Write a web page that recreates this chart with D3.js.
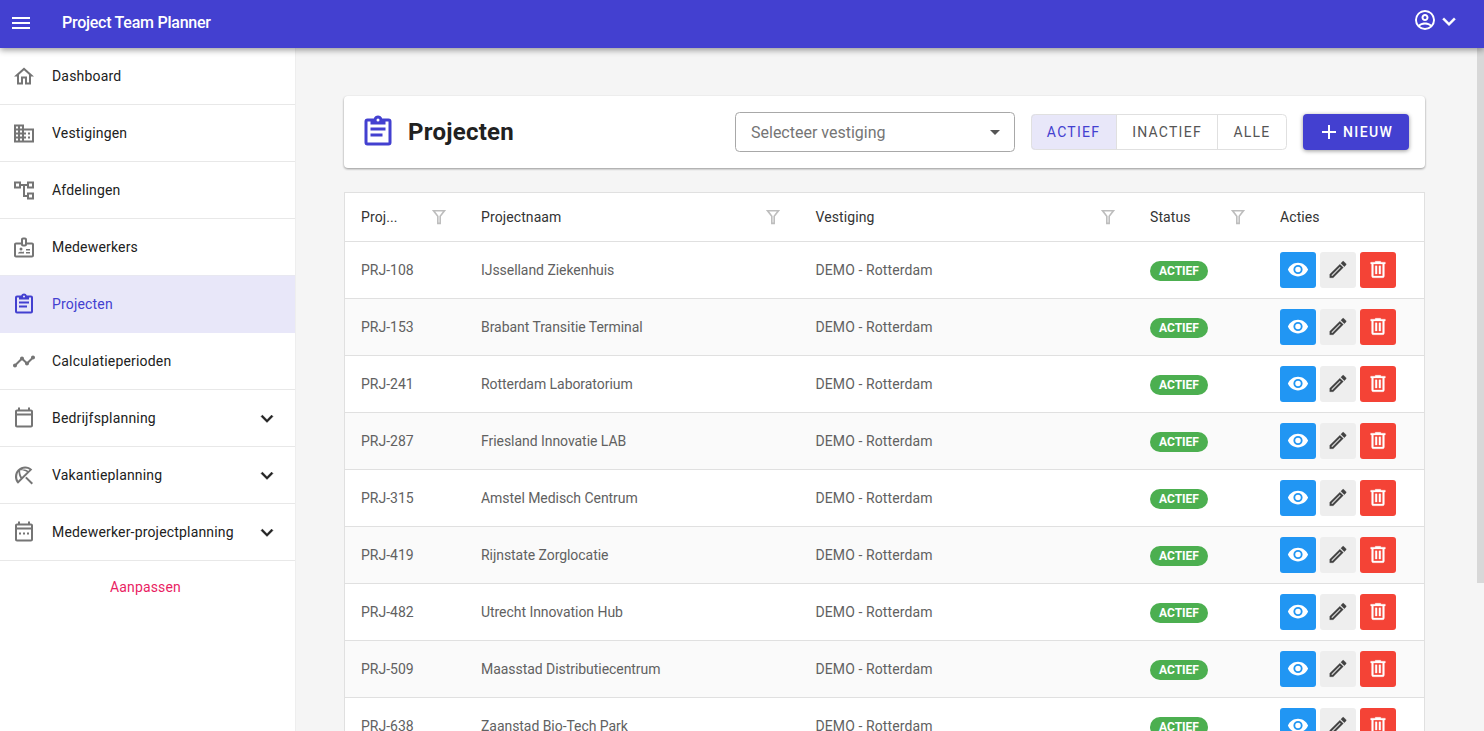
<!DOCTYPE html>
<html lang="nl">
<head>
<meta charset="utf-8">
<title>Project Team Planner</title>
<script src="https://cdn.jsdelivr.net/npm/d3@7"></script>
<style>
  html, body { margin: 0; height: 100%; overflow: hidden; background: #f5f5f5; }
  svg { display: block; font-family: Roboto, sans-serif; }
</style>
</head>
<body>
<svg id="app" width="1484" height="731"></svg>
<script>
const appTitle = "Project Team Planner";
const navLabels = ["Dashboard", "Vestigingen", "Afdelingen", "Medewerkers", "Projecten", "Calculatieperioden", "Bedrijfsplanning", "Vakantieplanning", "Medewerker-projectplanning"];
const navIcons = ["home", "domain", "tree", "badge", "clipboard", "timeline", "calendar", "umbrella", "calendarDots"];
const navExpandable = ["Bedrijfsplanning", "Vakantieplanning", "Medewerker-projectplanning"];
const activeNav = "Projecten";
const customizeLabel = "Aanpassen";

const pageTitle = "Projecten";
const selectPlaceholder = "Selecteer vestiging";
const toggleLabels = ["ACTIEF", "INACTIEF", "ALLE"];
const newLabel = "NIEUW";

const columnLabels = ["Proj...", "Projectnaam", "Vestiging", "Status", "Acties"];
const projectCodes = ["PRJ-108", "PRJ-153", "PRJ-241", "PRJ-287", "PRJ-315", "PRJ-419", "PRJ-482", "PRJ-509", "PRJ-638"];
const projectNames = ["IJsselland Ziekenhuis", "Brabant Transitie Terminal", "Rotterdam Laboratorium", "Friesland Innovatie LAB", "Amstel Medisch Centrum", "Rijnstate Zorglocatie", "Utrecht Innovation Hub", "Maasstad Distributiecentrum", "Zaanstad Bio-Tech Park"];
const projectSites = ["DEMO - Rotterdam", "DEMO - Rotterdam", "DEMO - Rotterdam", "DEMO - Rotterdam", "DEMO - Rotterdam", "DEMO - Rotterdam", "DEMO - Rotterdam", "DEMO - Rotterdam", "DEMO - Rotterdam"];
const projectStatus = ["ACTIEF", "ACTIEF", "ACTIEF", "ACTIEF", "ACTIEF", "ACTIEF", "ACTIEF", "ACTIEF", "ACTIEF"];
const rowActions = ["eye", "pencil", "trash"];

const PRIMARY = "#4340d0";
const ACTIVE_BG = "#e8e7f9";
const LINE = "#e8e8e8";

const icons = {
  menu: "M3,6H21V8H3V6M3,11H21V13H3V11M3,16H21V18H3V16Z",
  home: "M12 5.69L17 10.19V18H15V12H9V18H7V10.19L12 5.69M12 3L2 12H5V20H11V14H13V20H19V12H22L12 3Z",
  domain: "M18,15H16V17H18M18,11H16V13H18M20,19H12V17H14V15H12V13H14V11H12V9H20M10,7H8V5H10M10,11H8V9H10M10,15H8V13H10M10,19H8V17H10M6,7H4V5H6M6,11H4V9H6M6,15H4V13H6M6,19H4V17H6M12,7V3H2V21H22V7H12Z",
  tree: "M2 3H9V10H2ZM4 5V8H7V5ZM15 3H22V10H15ZM17 5V8H20V5ZM15 14H22V21H15ZM17 16V19H20V16ZM9 5.5H15V7.5H13V16.5H15V18.5H11V7.5H9Z",
  badge: "M20 7h-5V4c0-1.1-.9-2-2-2h-2c-1.1 0-2 .9-2 2v3H4c-1.1 0-2 .9-2 2v11c0 1.1.9 2 2 2h16c1.1 0 2-.9 2-2V9c0-1.1-.9-2-2-2zM11 4h2v5h-2V4zm9 16H4V9h5c0 1.1.9 2 2 2h2c1.1 0 2-.9 2-2h5v11zM9 15a1.5 1.5 0 1 0 0-3 1.5 1.5 0 0 0 0 3zm2.1 1.7c-.6-.3-1.3-.45-2.1-.45s-1.5.17-2.1.45c-.55.25-.9.8-.9 1.4V18h6v-.9c0-.6-.35-1.15-.9-1.4zM14 13.5h4V15h-4zm0 3h4V18h-4z",
  clipboard: "M19,3H14.82C14.4,1.84 13.3,1 12,1C10.7,1 9.6,1.84 9.18,3H5A2,2 0 0,0 3,5V19A2,2 0 0,0 5,21H19A2,2 0 0,0 21,19V5A2,2 0 0,0 19,3M12,3A1,1 0 0,1 13,4A1,1 0 0,1 12,5A1,1 0 0,1 11,4A1,1 0 0,1 12,3M7,7H17V5H19V19H5V5H7V7M17,11H7V9H17V11M15,15H7V13H15V15Z",
  timeline: "M23 8c0 1.1-.9 2-2 2-.18 0-.35-.02-.51-.07l-3.56 3.55c.05.16.07.34.07.52 0 1.1-.9 2-2 2s-2-.9-2-2c0-.18.02-.36.07-.52l-2.55-2.55c-.16.05-.34.07-.52.07s-.36-.02-.52-.07l-4.55 4.56c.05.16.07.33.07.51 0 1.1-.9 2-2 2s-2-.9-2-2 .9-2 2-2c.18 0 .35.02.51.07l4.56-4.55C8.02 9.36 8 9.18 8 9c0-1.1.9-2 2-2s2 .9 2 2c0 .18-.02.36-.07.52l2.55 2.55c.16-.05.34-.07.52-.07s.36.02.52.07l3.55-3.56C19.02 8.35 19 8.18 19 8c0-1.1.9-2 2-2s2 .9 2 2z",
  calendar: "M19 3H18V1H16V3H8V1H6V3H5C3.89 3 3 3.9 3 5V19C3 20.1 3.89 21 5 21H19C20.1 21 21 20.1 21 19V5C21 3.9 20.1 3 19 3M19 19H5V9H19V19M19 7H5V5H19V7Z",
  calendarDots: "M19 3H18V1H16V3H8V1H6V3H5C3.89 3 3 3.9 3 5V19C3 20.1 3.89 21 5 21H19C20.1 21 21 20.1 21 19V5C21 3.9 20.1 3 19 3M19 19H5V9H19V19M19 7H5V5H19V7ZM7 12H9V14H7ZM11 12H13V14H11ZM15 12H17V14H15Z",
  umbrella: "M13.13 14.56L14.56 13.13L21 19.57L19.57 21ZM5.95 5.98C2 9.93 2 16.33 5.97 20.28L20.26 5.96C16.31 2.01 9.91 2.02 5.95 5.98ZM6.1 17.2C4.6 14.6 4.9 10.9 6.6 8.3C6.5 10.5 7.2 13 8.5 15ZM9.9 13.6C8.6 11.4 8 8.9 8.2 6.9C10.3 6.7 12.8 7.3 15 8.6ZM9.2 6.2C11.9 4.7 15.2 4.7 17.5 6.2L16.3 7.4C14.3 6.2 11.8 5.8 9.2 6.2Z",
  filter: "M3 3H21L14.5 11.5V21H9.5V11.5ZM7.2 5L11.5 10.6V19H12.5V10.6L16.8 5Z",
  eye: "M12,9A3,3 0 0,0 9,12A3,3 0 0,0 12,15A3,3 0 0,0 15,12A3,3 0 0,0 12,9M12,17A5,5 0 0,1 7,12A5,5 0 0,1 12,7A5,5 0 0,1 17,12A5,5 0 0,1 12,17M12,4.5C7,4.5 2.73,7.61 1,12C2.73,16.39 7,19.5 12,19.5C17,19.5 21.27,16.39 23,12C21.27,7.61 17,4.5 12,4.5Z",
  pencil: "M14.06,9L15,9.94L5.92,19H5V18.08L14.06,9M17.66,3C17.41,3 17.15,3.1 16.96,3.29L15.13,5.12L18.88,8.87L20.71,7.04C21.1,6.65 21.1,6 20.71,5.63L18.37,3.29C18.17,3.09 17.92,3 17.66,3M14.06,6.19L3,17.25V21H6.75L17.81,9.94L14.06,6.19Z",
  trash: "M9,3V4H4V6H5V19A2,2 0 0,0 7,21H17A2,2 0 0,0 19,19V6H20V4H15V3H9M7,6H17V19H7V6M9,8V17H11V8H9M13,8V17H15V8H13Z",
  plus: "M19,13H13V19H11V13H5V11H11V5H13V11H19V13Z",
  chevron: "M7.41,8.58L12,13.17L16.59,8.58L18,10L12,16L6,10L7.41,8.58Z",
  account: "M12,2A10,10 0 0,0 2,12A10,10 0 0,0 12,22A10,10 0 0,0 22,12A10,10 0 0,0 12,2M7.07,18.28C7.5,17.38 10.12,16.5 12,16.5C13.88,16.5 16.5,17.38 16.93,18.28C15.57,19.36 13.86,20 12,20C10.14,20 8.43,19.36 7.07,18.28M18.36,16.83C16.93,15.09 13.46,14.5 12,14.5C10.54,14.5 7.07,15.09 5.64,16.83C4.62,15.5 4,13.82 4,12C4,7.59 7.59,4 12,4C16.41,4 20,7.59 20,12C20,13.82 19.38,15.5 18.36,16.83M12,6C10.06,6 8.5,7.56 8.5,9.5C8.5,11.44 10.06,13 12,13C13.94,13 15.5,11.44 15.5,9.5C15.5,7.56 13.94,6 12,6M12,11A1.5,1.5 0 0,1 10.5,9.5A1.5,1.5 0 0,1 12,8A1.5,1.5 0 0,1 13.5,9.5A1.5,1.5 0 0,1 12,11Z"
};

const svg = d3.select("#app");

// place a 24 unit icon centered on cx, cy
function icon(parent, name, cx, cy, size, fill, thicken = 0) {
  const k = size / 24;
  return parent.append("path")
    .attr("d", icons[name])
    .attr("fill", fill)
    .attr("stroke", thicken ? fill : "none")
    .attr("stroke-width", thicken)
    .attr("transform", `translate(${cx - size / 2},${cy - size / 2}) scale(${k})`);
}

function label(parent, str, x, y, size, fill, weight = 400, anchor = "start", spacing = 0) {
  return parent.append("text")
    .attr("x", x)
    .attr("y", y)
    .attr("dy", "0.35em")
    .attr("text-anchor", anchor)
    .style("font-size", size + "px")
    .style("font-weight", weight)
    .style("letter-spacing", spacing + "px")
    .attr("fill", fill)
    .text(str);
}

// background + scrollbar
svg.append("rect").attr("width", 1484).attr("height", 731).attr("fill", "#f5f5f5");
svg.append("rect").attr("x", 1477).attr("y", 48).attr("width", 7).attr("height", 535).attr("fill", "#d8d8d8");

// sidebar
const sidebar = svg.append("g");
sidebar.append("rect").attr("width", 295).attr("height", 731).attr("fill", "#fff");
sidebar.append("rect").attr("x", 295).attr("width", 1).attr("height", 731).attr("fill", "#eeeeee");

const navY = d3.scaleBand().domain(navLabels).range([48, 48 + 57 * navLabels.length]);

const navRows = sidebar.selectAll("g.nav").data(navLabels).join("g")
  .attr("class", "nav")
  .attr("transform", (d) => `translate(0,${navY(d)})`);

navRows.append("rect")
  .attr("y", (d) => (d === activeNav ? -0.5 : 0))
  .attr("width", 295)
  .attr("height", navY.bandwidth())
  .attr("fill", (d) => (d === activeNav ? ACTIVE_BG : "#fff"));

navRows.append("rect")
  .attr("y", navY.bandwidth() - 1)
  .attr("width", 295)
  .attr("height", 1)
  .attr("fill", (d) => (d === activeNav ? ACTIVE_BG : LINE));

navRows.each(function (d, i) {
  const row = d3.select(this);
  const isActive = d === activeNav;
  icon(row, navIcons[i], 24, 28.5, 24, isActive ? PRIMARY : "#757575");
  label(row, d, 52, 28.5, 14, isActive ? PRIMARY : "#212121", 400, "start", 0.18);
  if (navExpandable.includes(d)) icon(row, "chevron", 267, 28.5, 24, "#212121", 0.4);
});

label(sidebar, customizeLabel, 145.5, 587, 14, "#e91e63", 400, "middle", 0.15);

// top bar
const topbar = svg.append("g");
topbar.append("rect")
  .attr("width", 1484)
  .attr("height", 48)
  .attr("fill", PRIMARY)
  .style("filter", "drop-shadow(0 2px 3px rgba(0,0,0,0.4))");
icon(topbar, "menu", 21, 23, 24, "#fff");
label(topbar, appTitle, 62, 22.5, 16, "#fff", 500, "start", -0.25);
icon(topbar, "account", 1425, 20, 24, "#fff");
icon(topbar, "chevron", 1449, 21.5, 26, "#fff", 0.4);

// header card
const card = svg.append("g");
card.append("rect")
  .attr("x", 344).attr("y", 96).attr("width", 1081).attr("height", 72).attr("rx", 4)
  .attr("fill", "#fff")
  .style("filter", "drop-shadow(0 1.5px 1px rgba(0,0,0,0.4))");
icon(card, "clipboard", 378, 132, 36, PRIMARY);
label(card, pageTitle, 408, 132, 24, "#212121", 700, "start", 0.25);

card.append("rect")
  .attr("x", 735.5).attr("y", 112.5).attr("width", 279).attr("height", 39).attr("rx", 4)
  .attr("fill", "#fff").attr("stroke", "#a8a8a8");
label(card, selectPlaceholder, 751, 132, 16, "#757575");
card.append("path").attr("d", d3.line()([[990, 130], [1000, 130], [995, 135]])).attr("fill", "#555");

// toggle group
const toggleX = d3.scaleOrdinal().domain(toggleLabels).range([1031, 1117, 1218]);
const toggleW = d3.scaleOrdinal().domain(toggleLabels).range([86, 101, 69]);
card.append("clipPath").attr("id", "toggle-clip")
  .append("rect").attr("x", 1031).attr("y", 114).attr("width", 256).attr("height", 36).attr("rx", 4);
const toggleGroup = card.append("g");
const toggles = toggleGroup.selectAll("g.toggle").data(toggleLabels).join("g").attr("class", "toggle");
toggles.append("rect")
  .attr("clip-path", "url(#toggle-clip)")
  .attr("x", (d) => toggleX(d)).attr("y", 114)
  .attr("width", (d) => toggleW(d)).attr("height", 36)
  .attr("fill", (d, i) => (i === 0 ? ACTIVE_BG : "#fff"));
toggleGroup.append("rect")
  .attr("x", 1031.5).attr("y", 114.5).attr("width", 255).attr("height", 35).attr("rx", 4)
  .attr("fill", "none").attr("stroke", "#e0e0e0");
toggles.filter((d, i) => i > 0).append("rect")
  .attr("x", (d) => toggleX(d) - 1).attr("y", 114).attr("width", 1).attr("height", 36)
  .attr("fill", "#e0e0e0");
toggles.append("text")
  .attr("x", (d) => toggleX(d) + toggleW(d) / 2 - 0.5).attr("y", 132).attr("dy", "0.35em")
  .attr("text-anchor", "middle")
  .style("font-size", "14px").style("font-weight", 400).style("letter-spacing", "1.25px")
  .attr("fill", (d, i) => (i === 0 ? PRIMARY : "#555"))
  .text((d) => d);

// new button
card.append("rect")
  .attr("x", 1303).attr("y", 114).attr("width", 106).attr("height", 36).attr("rx", 4)
  .attr("fill", PRIMARY)
  .style("filter", "drop-shadow(0 1px 2px rgba(0,0,0,0.4))");
icon(card, "plus", 1329, 132, 24, "#fff");
label(card, newLabel, 1343, 132, 14, "#fff", 500, "start", 1.4);

// table
const rowH = 57;
const rowY = d3.scaleBand().domain(d3.range(projectCodes.length)).range([242, 242 + rowH * projectCodes.length]);
const colX = d3.scaleOrdinal().domain(columnLabels).range([361, 481, 815.5, 1150, 1280]);
const filterX = d3.scaleOrdinal().domain(columnLabels).range([439, 773, 1108, 1238]);

const table = svg.append("g");
table.append("rect")
  .attr("x", 344.5).attr("y", 192.5).attr("width", 1080).attr("height", 600)
  .attr("fill", "#fff").attr("stroke", "#e0e0e0");

const head = table.append("g");
columnLabels.forEach((c) => {
  label(head, c, colX(c), 217, 14, "#333", 400, "start", 0.1);
  if (c !== "Acties") icon(head, "filter", filterX(c), 217, 19, "#bdbdbd");
});
head.append("rect").attr("x", 345).attr("y", 241).attr("width", 1079).attr("height", 1).attr("fill", "#e0e0e0");

const rows = table.selectAll("g.row").data(projectCodes).join("g")
  .attr("class", "row")
  .attr("transform", (d, i) => `translate(0,${rowY(i)})`);

rows.append("rect")
  .attr("x", 345).attr("width", 1079).attr("height", rowH - 1)
  .attr("fill", (d, i) => (i % 2 ? "#fafafa" : "#fff"));
rows.append("rect")
  .attr("x", 345).attr("y", rowH - 1).attr("width", 1079).attr("height", 1)
  .attr("fill", "#e0e0e0");

const cellFill = "#616161";
rows.each(function (d, i) {
  const row = d3.select(this);
  label(row, d, colX("Proj..."), 28, 14, cellFill, 400, "start", 0);
  label(row, projectNames[i], colX("Projectnaam"), 28, 14, cellFill, 400, "start", -0.05);
  label(row, projectSites[i], colX("Vestiging"), 28, 14, cellFill, 400, "start", 0.1);

  row.append("rect")
    .attr("x", colX("Status")).attr("y", 19).attr("width", 58).attr("height", 20).attr("rx", 10)
    .attr("fill", "#4caf50");
  label(row, projectStatus[i], colX("Status") + 29, 29, 12, "#fff", 700, "middle");

  const actionX = d3.scaleBand().domain(rowActions).range([1280, 1400]);
  const actionFill = { eye: "#2196f3", pencil: "#eeeeee", trash: "#f44336" };
  const actionIcon = { eye: "#fff", pencil: "#424242", trash: "#fff" };
  rowActions.forEach((a) => {
    row.append("rect")
      .attr("x", actionX(a)).attr("y", 10).attr("width", 36).attr("height", 36).attr("rx", 3)
      .attr("fill", actionFill[a]);
    icon(row, a, actionX(a) + 18, 27.5, 22, actionIcon[a], a === "eye" ? 0 : 0.3);
  });
});
</script>
</body>
</html>
